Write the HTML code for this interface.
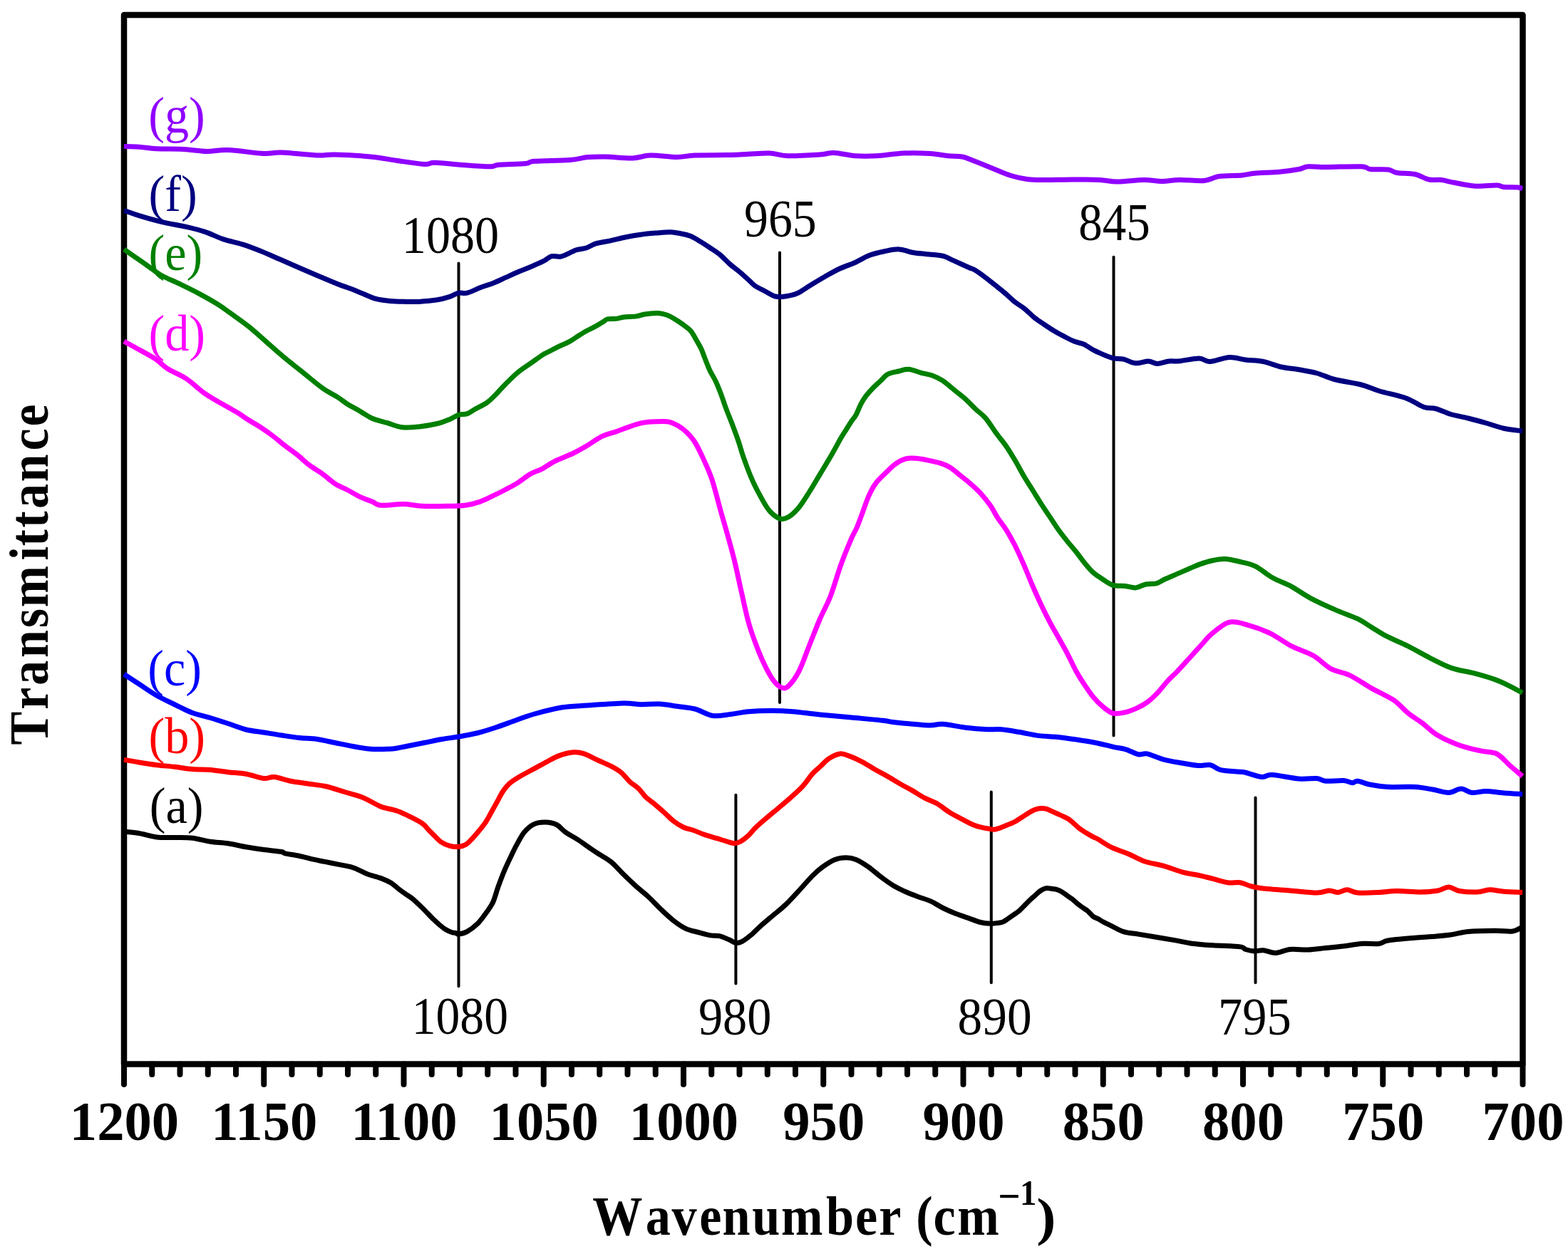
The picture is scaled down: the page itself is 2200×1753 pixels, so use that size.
<!DOCTYPE html>
<html><head><meta charset="utf-8"><title>FTIR Spectra</title>
<style>html,body{margin:0;padding:0;background:#fff;}svg{display:block;}</style>
</head><body>
<svg width="2200" height="1753" viewBox="0 0 2200 1753">
<rect x="0" y="0" width="2200" height="1753" fill="#fff"/>
<g font-family="'Liberation Serif', 'Times New Roman', serif">
<text transform="translate(563.86 354.78) scale(0.9273 1)" font-size="73.53" fill="#000">1080</text>
<text transform="translate(1043.97 331.53) scale(0.9225 1)" font-size="73.53" fill="#000">965</text>
<text transform="translate(1513.32 337.28) scale(0.9099 1)" font-size="73.53" fill="#000">845</text>
<text transform="translate(577.71 1451.13) scale(0.9182 1)" font-size="73.68" fill="#000">1080</text>
<text transform="translate(979.95 1452.43) scale(0.9273 1)" font-size="73.68" fill="#000">980</text>
<text transform="translate(1343.53 1451.51) scale(0.9340 1)" font-size="74.26" fill="#000">890</text>
<text transform="translate(1709.10 1452.27) scale(0.9309 1)" font-size="73.43" fill="#000">795</text>
<text transform="translate(208.27 185.64) scale(0.945 1)" font-size="72.2" fill="#8f00ff">(g)</text>
<text transform="translate(208.52 296.09) scale(0.945 1)" font-size="72.2" fill="#000080">(f)</text>
<text transform="translate(208.52 378.59) scale(0.945 1)" font-size="72.2" fill="#008000">(e)</text>
<text transform="translate(208.52 492.34) scale(0.945 1)" font-size="72.2" fill="#ff00ff">(d)</text>
<text transform="translate(207.27 962.34) scale(0.945 1)" font-size="72.2" fill="#0000ff">(c)</text>
<text transform="translate(208.52 1057.34) scale(0.945 1)" font-size="72.2" fill="#ff0000">(b)</text>
<text transform="translate(209.77 1154.84) scale(0.945 1)" font-size="72.2" fill="#000000">(a)</text>
<text transform="translate(174.50 1599.5) scale(0.983 1)" font-size="78.0" font-weight="bold" text-anchor="middle">1200</text>
<text transform="translate(370.75 1599.5) scale(0.983 1)" font-size="78.0" font-weight="bold" text-anchor="middle">1150</text>
<text transform="translate(567.00 1599.5) scale(0.983 1)" font-size="78.0" font-weight="bold" text-anchor="middle">1100</text>
<text transform="translate(763.25 1599.5) scale(0.983 1)" font-size="78.0" font-weight="bold" text-anchor="middle">1050</text>
<text transform="translate(959.50 1599.5) scale(0.983 1)" font-size="78.0" font-weight="bold" text-anchor="middle">1000</text>
<text transform="translate(1155.75 1599.5) scale(0.983 1)" font-size="78.0" font-weight="bold" text-anchor="middle">950</text>
<text transform="translate(1352.00 1599.5) scale(0.983 1)" font-size="78.0" font-weight="bold" text-anchor="middle">900</text>
<text transform="translate(1548.25 1599.5) scale(0.983 1)" font-size="78.0" font-weight="bold" text-anchor="middle">850</text>
<text transform="translate(1744.50 1599.5) scale(0.983 1)" font-size="78.0" font-weight="bold" text-anchor="middle">800</text>
<text transform="translate(1940.75 1599.5) scale(0.983 1)" font-size="78.0" font-weight="bold" text-anchor="middle">750</text>
<text transform="translate(2137.00 1599.5) scale(0.983 1)" font-size="78.0" font-weight="bold" text-anchor="middle">700</text>
<text transform="translate(66.9 1044) rotate(-90) scale(0.9 1)" x="-1.57 53.45 91.17 134.05 180.73 212.85 286.25 308.29 336.85 366.55 408.38 457.17 495.01" y="0" font-size="78.0" font-weight="bold">Transmittance</text>
<text transform="scale(0.9 1)" x="923.56 1006.44 1047.11 1090.39 1126.10 1172.38 1217.85 1287.83 1333.34 1370.23 1398.95 1428.18 1455.12 1492.57" y="1733.5" font-size="78.0" font-weight="bold">Wavenumber (cm</text>
<text transform="translate(1430.96 1690.80) scale(0.9130 1)" font-size="51.21" font-weight="bold">1</text>
<text transform="translate(1400.33 1698.80) scale(0.9220 1)" font-size="60.00" font-weight="bold">&#8722;</text>
<text transform="translate(1454.24 1733.05) scale(1.0923 1)" font-size="75.00" font-weight="bold">)</text>
</g>
<rect x="174" y="21" width="1962.5" height="1472.5" fill="none" stroke="#000" stroke-width="8.5" stroke-linejoin="round"/>
<path d="M174.00,1493.5V1522M213.25,1493.5V1508M252.50,1493.5V1508M291.75,1493.5V1508M331.00,1493.5V1508M370.25,1493.5V1522M409.50,1493.5V1508M448.75,1493.5V1508M488.00,1493.5V1508M527.25,1493.5V1508M566.50,1493.5V1522M605.75,1493.5V1508M645.00,1493.5V1508M684.25,1493.5V1508M723.50,1493.5V1508M762.75,1493.5V1522M802.00,1493.5V1508M841.25,1493.5V1508M880.50,1493.5V1508M919.75,1493.5V1508M959.00,1493.5V1522M998.25,1493.5V1508M1037.50,1493.5V1508M1076.75,1493.5V1508M1116.00,1493.5V1508M1155.25,1493.5V1522M1194.50,1493.5V1508M1233.75,1493.5V1508M1273.00,1493.5V1508M1312.25,1493.5V1508M1351.50,1493.5V1522M1390.75,1493.5V1508M1430.00,1493.5V1508M1469.25,1493.5V1508M1508.50,1493.5V1508M1547.75,1493.5V1522M1587.00,1493.5V1508M1626.25,1493.5V1508M1665.50,1493.5V1508M1704.75,1493.5V1508M1744.00,1493.5V1522M1783.25,1493.5V1508M1822.50,1493.5V1508M1861.75,1493.5V1508M1901.00,1493.5V1508M1940.25,1493.5V1522M1979.50,1493.5V1508M2018.75,1493.5V1508M2058.00,1493.5V1508M2097.25,1493.5V1508M2136.50,1493.5V1522" stroke="#000" stroke-width="8" stroke-linecap="round" fill="none"/>
<path d="M643.5,369.5V1384.25M1094,354.5V986M1562.5,360.75V1032.5M1032.4,1115.8V1380.5M1390.8,1111.5V1379.25M1761.5,1119.5V1379.25" stroke="#000" stroke-width="4" stroke-linecap="round" fill="none"/>
<path d="M174.00,205.50C177.50,205.62 187.33,205.71 195.00,206.25C202.67,206.79 209.58,208.21 220.00,208.75C230.42,209.29 245.83,208.88 257.50,209.50C269.17,210.12 279.58,212.33 290.00,212.50C300.42,212.67 306.67,210.00 320.00,210.50C333.33,211.00 357.50,214.92 370.00,215.50C382.50,216.08 382.50,213.58 395.00,214.00C407.50,214.42 432.50,217.50 445.00,218.00C457.50,218.50 457.50,216.67 470.00,217.00C482.50,217.33 505.42,218.58 520.00,220.00C534.58,221.42 545.00,223.75 557.50,225.50C570.00,227.25 586.25,230.04 595.00,230.50C603.75,230.96 601.67,228.12 610.00,228.25C618.33,228.38 635.00,230.46 645.00,231.25C655.00,232.04 662.50,232.58 670.00,233.00C677.50,233.42 685.00,234.04 690.00,233.75C695.00,233.46 692.08,231.96 700.00,231.25C707.92,230.54 729.17,230.33 737.50,229.50C745.83,228.67 739.58,227.08 750.00,226.25C760.42,225.42 787.50,225.46 800.00,224.50C812.50,223.54 816.67,221.25 825.00,220.50C833.33,219.75 839.58,219.75 850.00,220.00C860.42,220.25 877.08,222.33 887.50,222.00C897.92,221.67 902.08,218.25 912.50,218.00C922.92,217.75 939.58,220.50 950.00,220.50C960.42,220.50 962.50,218.50 975.00,218.00C987.50,217.50 1012.50,217.79 1025.00,217.50C1037.50,217.21 1040.83,216.67 1050.00,216.25C1059.17,215.83 1070.83,214.58 1080.00,215.00C1089.17,215.42 1093.33,218.42 1105.00,218.75C1116.67,219.08 1139.17,217.71 1150.00,217.00C1160.83,216.29 1161.67,214.21 1170.00,214.50C1178.33,214.79 1190.00,218.04 1200.00,218.75C1210.00,219.46 1218.75,219.38 1230.00,218.75C1241.25,218.12 1255.00,215.54 1267.50,215.00C1280.00,214.46 1294.58,214.88 1305.00,215.50C1315.42,216.12 1322.50,218.00 1330.00,218.75C1337.50,219.50 1343.75,218.75 1350.00,220.00C1356.25,221.25 1360.42,223.54 1367.50,226.25C1374.58,228.96 1384.17,232.92 1392.50,236.25C1400.83,239.58 1409.17,243.67 1417.50,246.25C1425.83,248.83 1434.17,250.71 1442.50,251.75C1450.83,252.79 1457.08,252.46 1467.50,252.50C1477.92,252.54 1492.50,252.00 1505.00,252.00C1517.50,252.00 1532.08,252.00 1542.50,252.50C1552.92,253.00 1557.08,255.00 1567.50,255.00C1577.92,255.00 1594.58,252.58 1605.00,252.50C1615.42,252.42 1621.67,254.50 1630.00,254.50C1638.33,254.50 1645.00,252.67 1655.00,252.50C1665.00,252.33 1680.83,254.33 1690.00,253.50C1699.17,252.67 1701.25,248.75 1710.00,247.50C1718.75,246.25 1734.17,246.71 1742.50,246.00C1750.83,245.29 1751.25,244.04 1760.00,243.25C1768.75,242.46 1784.58,242.21 1795.00,241.25C1805.42,240.29 1815.83,238.75 1822.50,237.50C1829.17,236.25 1828.75,234.25 1835.00,233.75C1841.25,233.25 1847.50,234.50 1860.00,234.50C1872.50,234.50 1899.58,233.25 1910.00,233.75C1920.42,234.25 1916.25,236.79 1922.50,237.50C1928.75,238.21 1941.25,237.17 1947.50,238.00C1953.75,238.83 1953.75,241.42 1960.00,242.50C1966.25,243.58 1977.50,242.92 1985.00,244.50C1992.50,246.08 1998.75,250.67 2005.00,252.00C2011.25,253.33 2016.67,251.79 2022.50,252.50C2028.33,253.21 2032.08,254.79 2040.00,256.25C2047.92,257.71 2060.00,260.62 2070.00,261.25C2080.00,261.88 2093.33,259.79 2100.00,260.00C2106.67,260.21 2105.00,262.00 2110.00,262.50C2115.00,263.00 2125.67,262.58 2130.00,263.00C2134.33,263.42 2135.00,264.67 2136.00,265.00" fill="none" stroke="#8f00ff" stroke-width="7" stroke-linejoin="round" stroke-linecap="butt"/>
<path d="M174.00,296.00C174.58,296.10 174.00,295.48 177.50,296.60C181.00,297.72 186.85,300.23 195.00,302.70C203.15,305.17 215.35,308.78 226.40,311.40C237.45,314.02 251.12,316.07 261.30,318.40C271.48,320.73 278.77,322.48 287.50,325.40C296.23,328.32 304.97,332.98 313.70,335.90C322.43,338.82 331.17,340.13 339.90,342.90C348.63,345.67 357.37,349.02 366.10,352.50C374.83,355.98 383.57,360.02 392.30,363.80C401.03,367.58 409.77,371.42 418.50,375.20C427.23,378.98 435.45,382.58 444.70,386.50C453.95,390.42 466.20,395.60 474.00,398.70C481.80,401.80 485.68,402.87 491.50,405.10C497.32,407.33 503.08,409.77 508.90,412.10C514.72,414.43 520.00,417.37 526.40,419.10C532.80,420.83 540.03,421.78 547.30,422.50C554.57,423.22 563.30,423.25 570.00,423.40C576.70,423.55 580.22,423.83 587.50,423.40C594.78,422.97 606.42,421.97 613.70,420.80C620.98,419.63 626.25,418.00 631.20,416.40C636.15,414.80 639.33,412.07 643.40,411.20C647.47,410.33 650.37,412.52 655.60,411.20C660.83,409.88 668.68,405.63 674.80,403.30C680.92,400.97 686.48,399.52 692.30,397.20C698.12,394.88 703.88,392.02 709.70,389.40C715.52,386.78 721.38,383.98 727.20,381.50C733.02,379.02 738.78,376.97 744.60,374.50C750.42,372.03 757.20,369.17 762.10,366.70C767.00,364.23 769.72,360.85 774.00,359.70C778.28,358.55 782.02,361.28 787.80,359.80C793.58,358.32 802.90,352.77 808.70,350.80C814.50,348.83 817.97,349.52 822.60,348.00C827.23,346.48 830.70,343.43 836.50,341.70C842.30,339.97 850.43,339.10 857.40,337.60C864.37,336.10 871.35,334.10 878.30,332.70C885.25,331.30 892.15,330.13 899.10,329.20C906.05,328.27 913.03,327.68 920.00,327.10C926.97,326.52 935.10,325.58 940.90,325.70C946.70,325.82 950.17,326.87 954.80,327.80C959.43,328.73 964.07,329.43 968.70,331.30C973.33,333.17 977.97,336.22 982.60,339.00C987.23,341.78 991.85,344.88 996.50,348.00C1001.15,351.12 1005.85,353.87 1010.50,357.70C1015.15,361.53 1019.77,366.93 1024.40,371.00C1029.03,375.07 1033.67,378.17 1038.30,382.10C1042.93,386.03 1048.58,391.35 1052.20,394.60C1055.82,397.85 1056.38,399.20 1060.00,401.60C1063.62,404.00 1069.27,406.60 1073.90,409.00C1078.53,411.40 1083.17,414.83 1087.80,416.00C1092.43,417.17 1096.60,416.70 1101.70,416.00C1106.80,415.30 1112.60,414.35 1118.40,411.80C1124.20,409.25 1130.00,404.63 1136.50,400.70C1143.00,396.77 1150.43,392.15 1157.40,388.20C1164.37,384.25 1171.35,380.25 1178.30,377.00C1185.25,373.75 1192.15,371.82 1199.10,368.70C1206.05,365.58 1213.03,360.97 1220.00,358.30C1226.97,355.63 1233.93,354.10 1240.90,352.70C1247.87,351.30 1254.85,349.55 1261.80,349.90C1268.75,350.25 1274.48,353.52 1282.60,354.80C1290.72,356.08 1303.53,356.78 1310.50,357.60C1317.47,358.42 1319.77,358.32 1324.40,359.70C1329.03,361.08 1332.37,363.23 1338.30,365.90C1344.23,368.57 1355.08,373.52 1360.00,375.70C1364.92,377.88 1364.18,376.83 1367.80,379.00C1371.42,381.17 1377.05,385.23 1381.70,388.70C1386.35,392.17 1391.05,396.08 1395.70,399.80C1400.35,403.52 1404.97,407.05 1409.60,411.00C1414.23,414.95 1418.87,419.80 1423.50,423.50C1428.13,427.20 1432.77,429.50 1437.40,433.20C1442.03,436.90 1446.67,441.98 1451.30,445.70C1455.93,449.42 1460.57,452.37 1465.20,455.50C1469.83,458.63 1474.45,461.72 1479.10,464.50C1483.75,467.28 1488.45,469.77 1493.10,472.20C1497.75,474.63 1502.37,477.25 1507.00,479.10C1511.63,480.95 1516.27,481.20 1520.90,483.30C1525.53,485.40 1530.17,489.27 1534.80,491.70C1539.43,494.13 1544.07,496.05 1548.70,497.90C1553.33,499.75 1557.97,501.75 1562.60,502.80C1567.23,503.85 1571.40,503.03 1576.50,504.20C1581.60,505.37 1587.40,509.33 1593.20,509.80C1599.00,510.27 1606.20,506.90 1611.30,507.00C1616.40,507.10 1619.02,510.40 1623.80,510.40C1628.58,510.40 1634.80,507.61 1640.00,507.00C1645.20,506.39 1647.92,507.42 1655.00,506.75C1662.08,506.08 1675.42,502.88 1682.50,503.00C1689.58,503.12 1690.42,507.75 1697.50,507.50C1704.58,507.25 1716.67,501.92 1725.00,501.50C1733.33,501.08 1739.58,504.00 1747.50,505.00C1755.42,506.00 1764.17,505.83 1772.50,507.50C1780.83,509.17 1789.17,513.12 1797.50,515.00C1805.83,516.88 1814.17,517.29 1822.50,518.75C1830.83,520.21 1839.17,521.46 1847.50,523.75C1855.83,526.04 1862.08,529.79 1872.50,532.50C1882.92,535.21 1899.58,537.29 1910.00,540.00C1920.42,542.71 1924.58,545.62 1935.00,548.75C1945.42,551.88 1962.08,555.00 1972.50,558.75C1982.92,562.50 1990.42,568.75 1997.50,571.25C2004.58,573.75 2008.75,572.08 2015.00,573.75C2021.25,575.42 2027.50,579.04 2035.00,581.25C2042.50,583.46 2051.67,584.92 2060.00,587.00C2068.33,589.08 2076.67,591.38 2085.00,593.75C2093.33,596.12 2101.50,599.38 2110.00,601.25C2118.50,603.12 2131.67,604.38 2136.00,605.00" fill="none" stroke="#000080" stroke-width="7" stroke-linejoin="round" stroke-linecap="butt"/>
<path d="M174.00,349.80C176.92,351.85 185.68,358.02 191.50,362.10C197.32,366.18 203.08,370.23 208.90,374.30C214.72,378.37 219.12,382.43 226.40,386.50C233.68,390.57 243.87,394.48 252.60,398.70C261.33,402.92 270.07,407.13 278.80,411.80C287.53,416.47 297.73,422.18 305.00,426.70C312.27,431.22 315.13,433.67 322.40,438.90C329.67,444.13 339.87,451.12 348.60,458.10C357.33,465.08 366.07,473.23 374.80,480.80C383.53,488.37 392.27,496.22 401.00,503.50C409.73,510.78 418.47,517.52 427.20,524.50C435.93,531.48 445.60,539.88 453.40,545.40C461.20,550.92 468.23,553.92 474.00,557.60C479.77,561.28 483.05,564.40 488.00,567.50C492.95,570.60 498.18,573.00 503.70,576.20C509.22,579.40 514.42,583.78 521.10,586.70C527.78,589.62 536.52,591.52 543.80,593.70C551.08,595.88 557.52,598.93 564.80,599.80C572.08,600.67 579.35,599.78 587.50,598.90C595.65,598.02 606.42,596.25 613.70,594.50C620.98,592.75 626.25,590.43 631.20,588.40C636.15,586.37 639.33,583.60 643.40,582.30C647.47,581.00 651.82,581.90 655.60,580.60C659.38,579.30 661.45,577.13 666.10,574.50C670.75,571.87 678.55,568.30 683.50,564.80C688.45,561.30 691.43,557.85 695.80,553.50C700.17,549.15 704.47,543.93 709.70,538.70C714.93,533.47 721.38,526.92 727.20,522.10C733.02,517.28 738.78,513.88 744.60,509.80C750.42,505.72 757.20,500.65 762.10,497.60C767.00,494.55 770.87,493.13 774.00,491.50C777.13,489.87 776.57,489.92 780.90,487.80C785.23,485.68 794.88,481.57 800.00,478.80C805.12,476.03 807.72,473.63 811.60,471.20C815.48,468.77 819.42,466.33 823.30,464.20C827.18,462.07 831.02,460.53 834.90,458.40C838.78,456.27 843.68,453.15 846.60,451.40C849.52,449.65 849.50,448.57 852.40,447.90C855.30,447.23 860.12,447.88 864.00,447.40C867.88,446.92 870.85,445.58 875.70,445.00C880.55,444.42 888.27,444.57 893.10,443.90C897.93,443.23 900.05,441.72 904.70,441.00C909.35,440.28 916.72,439.65 921.00,439.60C925.28,439.55 927.28,439.98 930.40,440.70C933.52,441.42 936.22,442.22 939.70,443.90C943.18,445.58 947.43,448.28 951.30,450.80C955.17,453.32 959.80,456.57 962.90,459.00C966.00,461.43 967.57,462.40 969.90,465.40C972.23,468.40 974.57,472.93 976.90,477.00C979.23,481.07 981.97,485.72 983.90,489.80C985.83,493.88 986.57,496.65 988.50,501.50C990.43,506.35 992.78,513.08 995.50,518.90C998.22,524.72 1002.08,530.58 1004.80,536.40C1007.52,542.22 1009.47,547.60 1011.80,553.80C1014.13,560.00 1016.27,566.80 1018.80,573.60C1021.33,580.40 1024.08,586.87 1027.00,594.60C1029.92,602.33 1033.65,612.25 1036.30,620.00C1038.95,627.75 1039.77,632.28 1042.90,641.10C1046.03,649.92 1051.02,663.52 1055.10,672.90C1059.18,682.28 1063.32,690.07 1067.40,697.40C1071.48,704.73 1075.12,711.82 1079.60,716.90C1084.08,721.98 1089.82,726.47 1094.30,727.90C1098.78,729.33 1102.03,728.15 1106.50,725.50C1110.97,722.85 1116.22,717.92 1121.10,712.00C1125.98,706.08 1130.90,697.73 1135.80,690.00C1140.70,682.27 1145.60,673.75 1150.50,665.60C1155.40,657.45 1160.28,649.60 1165.20,641.10C1170.12,632.60 1176.37,620.88 1180.00,614.60C1183.63,608.32 1184.67,607.13 1187.00,603.40C1189.33,599.67 1191.67,595.70 1194.00,592.20C1196.33,588.70 1198.68,586.58 1201.00,582.40C1203.32,578.22 1205.58,571.52 1207.90,567.10C1210.22,562.68 1212.10,559.63 1214.90,555.90C1217.70,552.17 1221.20,548.32 1224.70,544.70C1228.20,541.08 1232.40,537.47 1235.90,534.20C1239.40,530.93 1241.52,527.30 1245.70,525.10C1249.88,522.90 1256.12,522.15 1261.00,521.00C1265.88,519.85 1269.87,517.85 1275.00,518.20C1280.13,518.55 1286.22,521.60 1291.80,523.10C1297.38,524.60 1303.38,525.35 1308.50,527.20C1313.62,529.05 1317.13,530.58 1322.50,534.20C1327.87,537.82 1335.35,544.58 1340.70,548.90C1346.05,553.22 1349.95,555.92 1354.60,560.10C1359.25,564.28 1363.93,569.58 1368.60,574.00C1373.27,578.42 1377.95,581.23 1382.60,586.60C1387.25,591.97 1393.60,602.13 1396.50,606.20C1399.40,610.27 1397.38,607.55 1400.00,611.00C1402.62,614.45 1408.13,620.98 1412.20,626.90C1416.27,632.82 1420.32,639.57 1424.40,646.50C1428.48,653.43 1432.62,661.58 1436.70,668.50C1440.78,675.42 1444.83,681.48 1448.90,688.00C1452.97,694.52 1457.03,701.28 1461.10,707.60C1465.17,713.92 1469.22,719.78 1473.30,725.90C1477.38,732.02 1481.52,738.60 1485.60,744.30C1489.68,750.00 1493.73,755.02 1497.80,760.10C1501.87,765.18 1505.93,769.70 1510.00,774.80C1514.07,779.90 1518.12,785.80 1522.20,790.70C1526.28,795.60 1530.42,800.53 1534.50,804.20C1538.58,807.87 1542.22,809.85 1546.70,812.70C1551.18,815.55 1556.10,819.67 1561.40,821.30C1566.70,822.93 1573.20,821.90 1578.50,822.50C1583.80,823.10 1588.32,825.32 1593.20,824.90C1598.08,824.48 1602.92,821.02 1607.80,820.00C1612.68,818.98 1618.02,820.02 1622.50,818.80C1626.98,817.58 1629.82,814.93 1634.70,812.70C1639.58,810.47 1646.10,807.85 1651.80,805.40C1657.50,802.95 1663.60,800.25 1668.90,798.00C1674.20,795.75 1678.42,793.73 1683.60,791.90C1688.78,790.07 1694.20,788.23 1700.00,787.00C1705.80,785.77 1711.60,784.23 1718.40,784.50C1725.20,784.77 1733.67,786.90 1740.80,788.60C1747.93,790.30 1753.72,790.97 1761.20,794.70C1768.68,798.43 1777.20,806.23 1785.70,811.00C1794.20,815.77 1803.35,818.53 1812.20,823.30C1821.05,828.07 1828.58,834.17 1838.80,839.60C1849.02,845.03 1862.62,851.13 1873.50,855.90C1884.38,860.67 1895.60,864.12 1904.10,868.20C1912.60,872.28 1917.70,876.32 1924.50,880.40C1931.30,884.48 1936.40,888.28 1944.90,892.70C1953.40,897.12 1965.30,901.80 1975.50,906.90C1985.70,912.00 1995.90,918.18 2006.10,923.30C2016.30,928.42 2026.50,934.03 2036.70,937.60C2046.90,941.17 2057.08,941.98 2067.30,944.70C2077.52,947.42 2089.48,950.83 2098.00,953.90C2106.52,956.97 2112.07,960.00 2118.40,963.10C2124.73,966.20 2133.07,970.93 2136.00,972.50" fill="none" stroke="#008000" stroke-width="7" stroke-linejoin="round" stroke-linecap="butt"/>
<path d="M174.00,479.10C176.92,480.70 184.22,484.63 191.50,488.70C198.78,492.77 210.43,498.70 217.70,503.50C224.97,508.30 227.83,512.85 235.10,517.50C242.37,522.15 252.57,525.58 261.30,531.40C270.03,537.22 278.77,546.28 287.50,552.40C296.23,558.52 305.85,563.50 313.70,568.10C321.55,572.70 328.97,576.55 334.60,580.00C340.23,583.45 342.45,585.58 347.50,588.80C352.55,592.02 359.08,595.52 364.90,599.30C370.72,603.08 376.58,607.13 382.40,611.50C388.22,615.87 393.98,620.98 399.80,625.50C405.62,630.02 411.47,633.95 417.30,638.60C423.13,643.25 428.98,649.03 434.80,653.40C440.62,657.77 446.38,660.58 452.20,664.80C458.02,669.02 463.87,674.92 469.70,678.70C475.53,682.48 481.38,684.43 487.20,687.50C493.02,690.57 498.78,694.33 504.60,697.10C510.42,699.87 517.15,702.07 522.10,704.10C527.05,706.13 527.03,708.73 534.30,709.30C541.57,709.87 556.10,707.35 565.70,707.50C575.30,707.65 581.18,709.75 591.90,710.20C602.62,710.65 619.87,710.35 630.00,710.20C640.13,710.05 645.42,710.32 652.70,709.30C659.98,708.28 667.30,706.28 673.70,704.10C680.10,701.92 685.28,698.97 691.10,696.20C696.92,693.43 702.78,690.55 708.60,687.50C714.42,684.45 720.18,681.55 726.00,677.90C731.82,674.25 737.67,668.95 743.50,665.60C749.33,662.25 755.18,660.85 761.00,657.80C766.82,654.75 771.13,650.93 778.40,647.30C785.67,643.67 797.32,639.48 804.60,636.00C811.88,632.52 815.40,630.33 822.10,626.40C828.80,622.47 837.53,615.90 844.80,612.40C852.07,608.90 857.85,608.17 865.70,605.40C873.55,602.63 884.62,597.98 891.90,595.80C899.18,593.62 903.05,593.03 909.40,592.30C915.75,591.57 924.95,591.40 930.00,591.40C935.05,591.40 936.15,591.28 939.70,592.30C943.25,593.32 947.43,595.18 951.30,597.50C955.17,599.82 959.02,602.45 962.90,606.20C966.78,609.95 970.63,613.77 974.60,620.00C978.57,626.23 982.65,634.78 986.70,643.60C990.75,652.42 994.83,660.68 998.90,672.90C1002.97,685.12 1007.43,703.87 1011.10,716.90C1014.77,729.93 1017.63,739.28 1020.90,751.10C1024.17,762.92 1027.43,774.35 1030.70,787.80C1033.97,801.25 1037.25,817.53 1040.50,831.80C1043.75,846.07 1046.95,861.58 1050.20,873.40C1053.45,885.22 1056.33,892.92 1060.00,902.70C1063.67,912.48 1068.12,923.53 1072.20,932.10C1076.28,940.67 1080.42,948.60 1084.50,954.10C1088.58,959.60 1093.03,963.68 1096.70,965.10C1100.37,966.52 1102.43,966.47 1106.50,962.60C1110.57,958.73 1116.22,951.47 1121.10,941.90C1125.98,932.33 1130.90,917.43 1135.80,905.20C1140.70,892.97 1145.60,879.92 1150.50,868.50C1155.40,857.08 1160.32,849.33 1165.20,836.70C1170.08,824.07 1174.92,806.15 1179.80,792.70C1184.68,779.25 1190.73,764.78 1194.50,756.00C1198.27,747.22 1199.70,746.35 1202.40,740.00C1205.10,733.65 1207.92,725.30 1210.70,717.90C1213.48,710.50 1216.07,702.23 1219.10,695.60C1222.13,688.97 1224.93,683.45 1228.90,678.10C1232.87,672.75 1238.25,668.03 1242.90,663.50C1247.55,658.97 1252.15,654.17 1256.80,650.90C1261.45,647.63 1266.13,645.18 1270.80,643.90C1275.47,642.62 1280.15,642.97 1284.80,643.20C1289.45,643.43 1292.88,644.13 1298.70,645.30C1304.52,646.47 1313.87,648.33 1319.70,650.20C1325.53,652.07 1329.05,653.60 1333.70,656.50C1338.35,659.40 1342.95,663.88 1347.60,667.60C1352.25,671.32 1356.93,674.72 1361.60,678.80C1366.27,682.88 1370.93,686.97 1375.60,692.10C1380.27,697.23 1385.53,703.77 1389.60,709.60C1393.67,715.43 1396.23,721.32 1400.00,727.10C1403.77,732.88 1408.13,737.77 1412.20,744.30C1416.27,750.83 1420.32,758.15 1424.40,766.30C1428.48,774.45 1432.62,783.83 1436.70,793.20C1440.78,802.57 1444.83,813.13 1448.90,822.50C1452.97,831.87 1457.03,840.85 1461.10,849.40C1465.17,857.95 1469.22,866.07 1473.30,873.80C1477.38,881.53 1481.52,888.47 1485.60,895.80C1489.68,903.13 1493.73,910.05 1497.80,917.80C1501.87,925.55 1505.93,934.95 1510.00,942.30C1514.07,949.65 1518.12,955.78 1522.20,961.90C1526.28,968.02 1530.42,974.12 1534.50,979.00C1538.58,983.88 1542.22,987.53 1546.70,991.20C1551.18,994.87 1556.10,999.57 1561.40,1001.00C1566.70,1002.43 1572.80,1001.03 1578.50,999.80C1584.20,998.57 1590.30,996.05 1595.60,993.60C1600.90,991.15 1605.42,988.77 1610.30,985.10C1615.18,981.43 1620.42,976.28 1624.90,971.60C1629.38,966.92 1632.72,961.88 1637.20,957.00C1641.68,952.12 1647.32,946.98 1651.80,942.30C1656.28,937.62 1660.02,933.38 1664.10,928.90C1668.18,924.42 1672.23,919.88 1676.30,915.40C1680.37,910.92 1684.55,906.28 1688.50,902.00C1692.45,897.72 1694.00,894.48 1700.00,889.70C1706.00,884.92 1716.00,875.37 1724.50,873.30C1733.00,871.23 1741.48,874.75 1751.00,877.30C1760.52,879.85 1771.40,883.67 1781.60,888.60C1791.80,893.53 1801.98,901.63 1812.20,906.90C1822.42,912.17 1833.72,914.92 1842.90,920.20C1852.08,925.48 1858.80,934.00 1867.30,938.60C1875.80,943.20 1884.37,943.22 1893.90,947.80C1903.43,952.38 1914.30,960.33 1924.50,966.10C1934.70,971.87 1946.60,976.62 1955.10,982.40C1963.60,988.18 1968.70,995.35 1975.50,1000.80C1982.30,1006.25 1989.10,1010.00 1995.90,1015.10C2002.70,1020.20 2007.80,1026.30 2016.30,1031.40C2024.80,1036.50 2036.68,1041.95 2046.90,1045.70C2057.12,1049.45 2068.75,1051.85 2077.60,1053.90C2086.45,1055.95 2093.20,1054.60 2100.00,1058.00C2106.80,1061.40 2112.40,1069.05 2118.40,1074.30C2124.40,1079.55 2133.07,1086.97 2136.00,1089.50" fill="none" stroke="#ff00ff" stroke-width="7" stroke-linejoin="round" stroke-linecap="butt"/>
<path d="M174.00,946.25C177.50,948.54 187.33,955.00 195.00,960.00C202.67,965.00 211.67,971.46 220.00,976.25C228.33,981.04 236.67,984.71 245.00,988.75C253.33,992.79 261.67,997.38 270.00,1000.50C278.33,1003.62 286.67,1005.00 295.00,1007.50C303.33,1010.00 311.67,1012.75 320.00,1015.50C328.33,1018.25 336.67,1021.92 345.00,1024.00C353.33,1026.08 361.67,1026.67 370.00,1028.00C378.33,1029.33 386.67,1030.75 395.00,1032.00C403.33,1033.25 411.67,1034.58 420.00,1035.50C428.33,1036.42 436.67,1036.33 445.00,1037.50C453.33,1038.67 461.67,1040.83 470.00,1042.50C478.33,1044.17 486.67,1046.04 495.00,1047.50C503.33,1048.96 511.67,1050.62 520.00,1051.25C528.33,1051.88 538.75,1051.46 545.00,1051.25C551.25,1051.04 553.33,1050.62 557.50,1050.00C561.67,1049.38 563.75,1048.75 570.00,1047.50C576.25,1046.25 586.67,1044.17 595.00,1042.50C603.33,1040.83 611.67,1038.96 620.00,1037.50C628.33,1036.04 636.67,1035.21 645.00,1033.75C653.33,1032.29 661.67,1030.83 670.00,1028.75C678.33,1026.67 685.83,1024.29 695.00,1021.25C704.17,1018.21 715.83,1013.71 725.00,1010.50C734.17,1007.29 739.58,1004.92 750.00,1002.00C760.42,999.08 775.00,995.00 787.50,993.00C800.00,991.00 810.42,991.00 825.00,990.00C839.58,989.00 862.50,987.21 875.00,987.00C887.50,986.79 891.67,988.58 900.00,988.75C908.33,988.92 916.67,987.58 925.00,988.00C933.33,988.42 941.67,990.08 950.00,991.25C958.33,992.42 966.67,992.79 975.00,995.00C983.33,997.21 991.67,1003.25 1000.00,1004.50C1008.33,1005.75 1016.67,1003.46 1025.00,1002.50C1033.33,1001.54 1040.42,999.58 1050.00,998.75C1059.58,997.92 1072.08,997.50 1082.50,997.50C1092.92,997.50 1101.25,997.83 1112.50,998.75C1123.75,999.67 1135.42,1001.54 1150.00,1003.00C1164.58,1004.46 1185.17,1006.12 1200.00,1007.50C1214.83,1008.88 1229.83,1010.21 1239.00,1011.25C1248.17,1012.29 1244.42,1012.62 1255.00,1013.75C1265.58,1014.88 1291.25,1017.58 1302.50,1018.00C1313.75,1018.42 1313.75,1015.71 1322.50,1016.25C1331.25,1016.79 1344.58,1020.00 1355.00,1021.25C1365.42,1022.50 1376.67,1023.33 1385.00,1023.75C1393.33,1024.17 1397.50,1023.12 1405.00,1023.75C1412.50,1024.38 1421.25,1026.03 1430.00,1027.50C1438.75,1028.97 1448.55,1031.45 1457.50,1032.60C1466.45,1033.75 1474.98,1033.52 1483.70,1034.40C1492.42,1035.28 1501.08,1036.60 1509.80,1037.90C1518.52,1039.20 1527.27,1040.47 1536.00,1042.20C1544.73,1043.93 1554.92,1046.70 1562.20,1048.30C1569.48,1049.90 1573.87,1050.05 1579.70,1051.80C1585.53,1053.55 1592.25,1057.78 1597.20,1058.80C1602.15,1059.82 1603.58,1056.73 1609.40,1057.90C1615.22,1059.07 1623.95,1063.62 1632.10,1065.80C1640.25,1067.98 1650.15,1069.55 1658.30,1071.00C1666.45,1072.45 1674.32,1074.05 1681.00,1074.50C1687.68,1074.95 1693.17,1072.68 1698.40,1073.70C1703.63,1074.72 1705.47,1079.00 1712.40,1080.60C1719.33,1082.20 1734.15,1082.69 1740.00,1083.30C1745.85,1083.91 1742.50,1083.05 1747.50,1084.25C1752.50,1085.45 1763.75,1089.96 1770.00,1090.50C1776.25,1091.04 1776.25,1087.08 1785.00,1087.50C1793.75,1087.92 1812.08,1092.17 1822.50,1093.00C1832.92,1093.83 1841.25,1091.96 1847.50,1092.50C1853.75,1093.04 1853.75,1095.75 1860.00,1096.25C1866.25,1096.75 1878.75,1095.08 1885.00,1095.50C1891.25,1095.92 1894.17,1098.62 1897.50,1098.75C1900.83,1098.88 1900.83,1095.83 1905.00,1096.25C1909.17,1096.67 1915.42,1099.88 1922.50,1101.25C1929.58,1102.62 1937.08,1103.96 1947.50,1104.50C1957.92,1105.04 1974.58,1103.92 1985.00,1104.50C1995.42,1105.08 2002.08,1106.67 2010.00,1108.00C2017.92,1109.33 2025.83,1112.67 2032.50,1112.50C2039.17,1112.33 2044.58,1107.00 2050.00,1107.00C2055.42,1107.00 2059.17,1111.92 2065.00,1112.50C2070.83,1113.08 2077.50,1110.42 2085.00,1110.50C2092.50,1110.58 2101.50,1112.33 2110.00,1113.00C2118.50,1113.67 2131.67,1114.25 2136.00,1114.50" fill="none" stroke="#0000ff" stroke-width="7" stroke-linejoin="round" stroke-linecap="butt"/>
<path d="M174.00,1066.25C177.50,1066.88 187.33,1068.75 195.00,1070.00C202.67,1071.25 211.67,1072.71 220.00,1073.75C228.33,1074.79 236.67,1075.29 245.00,1076.25C253.33,1077.21 261.67,1078.79 270.00,1079.50C278.33,1080.21 286.67,1079.79 295.00,1080.50C303.33,1081.21 311.67,1082.79 320.00,1083.75C328.33,1084.71 336.67,1084.79 345.00,1086.25C353.33,1087.71 363.33,1091.79 370.00,1092.50C376.67,1093.21 378.75,1089.88 385.00,1090.50C391.25,1091.12 399.58,1094.67 407.50,1096.25C415.42,1097.83 424.17,1098.75 432.50,1100.00C440.83,1101.25 449.17,1101.88 457.50,1103.75C465.83,1105.62 474.17,1108.75 482.50,1111.25C490.83,1113.75 499.17,1115.42 507.50,1118.75C515.83,1122.08 527.08,1128.72 532.50,1131.25C537.92,1133.78 535.83,1132.73 540.00,1133.90C544.17,1135.08 551.68,1136.27 557.50,1138.30C563.32,1140.33 569.08,1143.20 574.90,1146.10C580.72,1149.00 588.03,1152.63 592.40,1155.70C596.77,1158.77 598.20,1161.58 601.10,1164.50C604.00,1167.42 606.88,1170.35 609.80,1173.20C612.72,1176.05 615.10,1179.27 618.60,1181.60C622.10,1183.93 626.73,1186.05 630.80,1187.20C634.87,1188.35 639.22,1188.80 643.00,1188.50C646.78,1188.20 650.30,1187.23 653.50,1185.40C656.70,1183.57 659.00,1180.85 662.20,1177.50C665.40,1174.15 669.50,1169.22 672.70,1165.30C675.90,1161.38 678.78,1157.92 681.40,1154.00C684.02,1150.08 685.78,1146.47 688.40,1141.80C691.02,1137.13 694.18,1131.25 697.10,1126.00C700.02,1120.75 702.98,1114.67 705.90,1110.30C708.82,1105.93 710.82,1103.15 714.60,1099.80C718.38,1096.45 722.78,1093.68 728.60,1090.20C734.42,1086.72 743.10,1082.38 749.50,1078.90C755.90,1075.42 761.17,1072.35 767.00,1069.30C772.83,1066.25 778.10,1062.85 784.50,1060.60C790.90,1058.35 799.58,1056.25 805.40,1055.80C811.22,1055.35 813.63,1055.95 819.40,1057.90C825.17,1059.85 833.65,1064.58 840.00,1067.50C846.35,1070.42 852.27,1072.63 857.50,1075.40C862.73,1078.17 867.03,1080.47 871.40,1084.10C875.77,1087.73 879.62,1093.42 883.70,1097.20C887.78,1100.98 892.12,1103.15 895.90,1106.80C899.68,1110.45 902.62,1115.45 906.40,1119.10C910.18,1122.75 914.25,1125.07 918.60,1128.70C922.95,1132.33 928.13,1136.98 932.50,1140.90C936.87,1144.82 940.43,1148.85 944.80,1152.20C949.17,1155.55 954.05,1158.82 958.70,1161.00C963.35,1163.18 967.75,1163.57 972.70,1165.30C977.65,1167.03 982.87,1169.50 988.40,1171.40C993.93,1173.30 1000.65,1175.10 1005.90,1176.70C1011.15,1178.30 1015.83,1179.83 1019.90,1181.00C1023.97,1182.17 1027.10,1183.70 1030.30,1183.70C1033.50,1183.70 1035.90,1182.75 1039.10,1181.00C1042.30,1179.25 1046.02,1176.40 1049.50,1173.20C1052.98,1170.00 1055.63,1166.02 1060.00,1161.80C1064.37,1157.58 1070.47,1152.40 1075.70,1147.90C1080.93,1143.40 1085.87,1139.47 1091.40,1134.80C1096.93,1130.13 1103.07,1125.15 1108.90,1119.90C1114.73,1114.65 1121.22,1108.97 1126.40,1103.30C1131.58,1097.63 1135.98,1090.40 1140.00,1085.90C1144.02,1081.40 1146.72,1079.80 1150.50,1076.30C1154.28,1072.80 1158.05,1067.97 1162.70,1064.90C1167.35,1061.83 1173.45,1058.48 1178.40,1057.90C1183.35,1057.32 1187.17,1059.50 1192.40,1061.40C1197.63,1063.30 1203.98,1066.23 1209.80,1069.30C1215.62,1072.37 1221.47,1076.45 1227.30,1079.80C1233.13,1083.15 1238.98,1086.07 1244.80,1089.40C1250.62,1092.73 1256.38,1096.47 1262.20,1099.80C1268.02,1103.13 1273.87,1106.05 1279.70,1109.40C1285.53,1112.75 1291.38,1116.83 1297.20,1119.90C1303.02,1122.97 1308.78,1124.45 1314.60,1127.80C1320.42,1131.15 1326.28,1136.37 1332.10,1140.00C1337.92,1143.63 1343.68,1146.55 1349.50,1149.60C1355.32,1152.65 1361.92,1156.25 1367.00,1158.30C1372.08,1160.35 1376.60,1161.10 1380.00,1161.90C1383.40,1162.70 1384.93,1162.72 1387.40,1163.10C1389.87,1163.48 1392.32,1164.33 1394.80,1164.20C1397.28,1164.07 1399.82,1163.10 1402.30,1162.30C1404.78,1161.50 1407.23,1160.38 1409.70,1159.40C1412.17,1158.42 1414.63,1157.47 1417.10,1156.40C1419.57,1155.33 1422.03,1154.37 1424.50,1153.00C1426.97,1151.63 1429.42,1149.80 1431.90,1148.20C1434.38,1146.60 1436.92,1144.95 1439.40,1143.40C1441.88,1141.85 1444.33,1140.20 1446.80,1138.90C1449.27,1137.60 1451.73,1136.33 1454.20,1135.60C1456.67,1134.87 1459.12,1134.50 1461.60,1134.50C1464.08,1134.50 1466.62,1134.87 1469.10,1135.60C1471.58,1136.33 1474.03,1137.78 1476.50,1138.90C1478.97,1140.02 1481.43,1141.18 1483.90,1142.30C1486.37,1143.42 1488.83,1144.43 1491.30,1145.60C1493.77,1146.77 1496.22,1147.68 1498.70,1149.30C1501.18,1150.92 1503.72,1153.20 1506.20,1155.30C1508.68,1157.40 1511.13,1159.93 1513.60,1161.90C1516.07,1163.87 1518.53,1165.48 1521.00,1167.10C1523.47,1168.72 1525.93,1170.17 1528.40,1171.60C1530.87,1173.03 1533.87,1174.72 1535.80,1175.70C1537.73,1176.68 1536.18,1175.30 1540.00,1177.50C1543.82,1179.70 1551.50,1185.40 1558.70,1188.90C1565.90,1192.40 1575.33,1195.15 1583.20,1198.50C1591.07,1201.85 1597.75,1206.23 1605.90,1209.00C1614.05,1211.77 1623.37,1212.63 1632.10,1215.10C1640.83,1217.57 1649.57,1221.47 1658.30,1223.80C1667.03,1226.13 1677.23,1227.50 1684.50,1229.10C1691.77,1230.70 1695.50,1231.80 1701.90,1233.40C1708.30,1235.00 1716.55,1237.82 1722.90,1238.70C1729.25,1239.58 1734.65,1237.86 1740.00,1238.70C1745.35,1239.54 1749.58,1242.37 1755.00,1243.75C1760.42,1245.13 1763.33,1245.96 1772.50,1247.00C1781.67,1248.04 1797.50,1249.00 1810.00,1250.00C1822.50,1251.00 1838.33,1253.00 1847.50,1253.00C1856.67,1253.00 1860.00,1250.08 1865.00,1250.00C1870.00,1249.92 1873.33,1252.71 1877.50,1252.50C1881.67,1252.29 1885.42,1248.67 1890.00,1248.75C1894.58,1248.83 1897.50,1252.38 1905.00,1253.00C1912.50,1253.62 1925.83,1252.92 1935.00,1252.50C1944.17,1252.08 1950.42,1250.58 1960.00,1250.50C1969.58,1250.42 1982.92,1252.08 1992.50,1252.00C2002.08,1251.92 2010.83,1251.17 2017.50,1250.00C2024.17,1248.83 2027.50,1244.92 2032.50,1245.00C2037.50,1245.08 2040.83,1249.33 2047.50,1250.50C2054.17,1251.67 2065.42,1252.29 2072.50,1252.00C2079.58,1251.71 2083.75,1248.88 2090.00,1248.75C2096.25,1248.62 2102.33,1250.62 2110.00,1251.25C2117.67,1251.88 2131.67,1252.29 2136.00,1252.50" fill="none" stroke="#ff0000" stroke-width="7" stroke-linejoin="round" stroke-linecap="butt"/>
<path d="M174.00,1167.00C177.50,1167.42 187.33,1168.17 195.00,1169.50C202.67,1170.83 211.67,1174.00 220.00,1175.00C228.33,1176.00 236.67,1175.29 245.00,1175.50C253.33,1175.71 261.67,1175.29 270.00,1176.25C278.33,1177.21 286.67,1180.00 295.00,1181.25C303.33,1182.50 311.67,1182.50 320.00,1183.75C328.33,1185.00 336.67,1187.29 345.00,1188.75C353.33,1190.21 361.67,1191.38 370.00,1192.50C378.33,1193.62 390.00,1194.62 395.00,1195.50C400.00,1196.38 396.07,1196.88 400.00,1197.80C403.93,1198.72 412.42,1199.68 418.60,1201.00C424.78,1202.32 430.92,1204.30 437.10,1205.70C443.28,1207.10 449.52,1208.17 455.70,1209.40C461.88,1210.63 468.02,1211.87 474.20,1213.10C480.38,1214.33 488.17,1215.57 492.80,1216.80C497.43,1218.03 498.13,1218.80 502.00,1220.50C505.87,1222.20 510.58,1224.98 516.00,1227.00C521.42,1229.02 529.10,1230.58 534.50,1232.60C539.90,1234.62 544.15,1236.50 548.40,1239.10C552.65,1241.70 556.52,1245.58 560.00,1248.20C563.48,1250.82 566.20,1252.62 569.30,1254.80C572.40,1256.98 575.50,1258.80 578.60,1261.30C581.70,1263.80 584.78,1266.83 587.90,1269.80C591.02,1272.77 594.18,1275.95 597.30,1279.10C600.42,1282.25 603.50,1285.67 606.60,1288.70C609.70,1291.73 612.80,1294.68 615.90,1297.30C619.00,1299.92 622.10,1302.50 625.20,1304.40C628.30,1306.30 632.03,1307.83 634.50,1308.70C636.97,1309.57 638.58,1309.20 640.00,1309.60C641.42,1310.00 640.47,1311.43 643.00,1311.10C645.53,1310.77 650.53,1310.22 655.20,1307.60C659.87,1304.98 666.33,1300.05 671.00,1295.40C675.67,1290.75 679.72,1284.65 683.20,1279.70C686.68,1274.75 689.28,1271.52 691.90,1265.70C694.52,1259.88 696.28,1252.07 698.90,1244.80C701.52,1237.53 704.68,1229.08 707.60,1222.10C710.52,1215.12 713.48,1209.02 716.40,1202.90C719.32,1196.78 721.90,1191.23 725.10,1185.40C728.30,1179.57 731.53,1172.70 735.60,1167.90C739.67,1163.10 744.55,1158.92 749.50,1156.60C754.45,1154.28 760.05,1153.85 765.30,1154.00C770.55,1154.15 776.35,1155.18 781.00,1157.50C785.65,1159.82 788.27,1164.42 793.20,1167.90C798.13,1171.38 804.78,1174.62 810.60,1178.40C816.42,1182.18 823.20,1187.25 828.10,1190.60C833.00,1193.95 835.10,1195.30 840.00,1198.50C844.90,1201.70 851.68,1205.00 857.50,1209.80C863.32,1214.60 869.08,1221.62 874.90,1227.30C880.72,1232.98 886.58,1238.67 892.40,1243.90C898.22,1249.13 903.98,1253.32 909.80,1258.70C915.62,1264.08 921.47,1270.67 927.30,1276.20C933.13,1281.73 938.98,1287.38 944.80,1291.90C950.62,1296.42 956.38,1300.53 962.20,1303.30C968.02,1306.07 973.87,1306.90 979.70,1308.50C985.53,1310.10 992.25,1312.03 997.20,1312.90C1002.15,1313.77 1005.05,1312.68 1009.40,1313.70C1013.75,1314.72 1019.52,1317.40 1023.30,1319.00C1027.08,1320.60 1029.18,1322.87 1032.10,1323.30C1035.02,1323.73 1037.32,1323.33 1040.80,1321.60C1044.28,1319.87 1048.63,1316.53 1053.00,1312.90C1057.37,1309.27 1061.75,1304.47 1067.00,1299.80C1072.25,1295.13 1078.68,1289.85 1084.50,1284.90C1090.32,1279.95 1096.08,1275.62 1101.90,1270.10C1107.72,1264.58 1113.05,1258.63 1119.40,1251.80C1125.75,1244.97 1134.23,1234.93 1140.00,1229.10C1145.77,1223.27 1148.77,1220.58 1154.00,1216.80C1159.23,1213.02 1165.88,1208.58 1171.40,1206.40C1176.92,1204.22 1182.15,1203.70 1187.10,1203.70C1192.05,1203.70 1195.85,1204.22 1201.10,1206.40C1206.35,1208.58 1212.78,1212.73 1218.60,1216.80C1224.42,1220.87 1230.18,1226.43 1236.00,1230.80C1241.82,1235.17 1247.67,1239.50 1253.50,1243.00C1259.33,1246.50 1265.18,1249.18 1271.00,1251.80C1276.82,1254.42 1282.58,1256.52 1288.40,1258.70C1294.22,1260.88 1300.08,1262.27 1305.90,1264.90C1311.72,1267.53 1317.48,1271.60 1323.30,1274.50C1329.12,1277.40 1334.97,1279.98 1340.80,1282.30C1346.63,1284.62 1352.48,1286.37 1358.30,1288.40C1364.12,1290.43 1370.47,1293.18 1375.70,1294.50C1380.93,1295.82 1385.65,1296.15 1389.70,1296.30C1393.75,1296.45 1397.05,1295.80 1400.00,1295.40C1402.95,1295.00 1404.93,1294.95 1407.40,1293.90C1409.87,1292.85 1412.32,1290.77 1414.80,1289.10C1417.28,1287.43 1419.82,1285.63 1422.30,1283.90C1424.78,1282.17 1427.23,1280.82 1429.70,1278.70C1432.17,1276.58 1434.63,1273.68 1437.10,1271.20C1439.57,1268.72 1442.03,1266.15 1444.50,1263.80C1446.97,1261.45 1449.42,1259.32 1451.90,1257.10C1454.38,1254.88 1456.92,1252.22 1459.40,1250.50C1461.88,1248.78 1464.33,1247.37 1466.80,1246.80C1469.27,1246.23 1471.73,1246.87 1474.20,1247.10C1476.67,1247.33 1479.12,1247.52 1481.60,1248.20C1484.08,1248.88 1486.62,1249.83 1489.10,1251.20C1491.58,1252.57 1494.03,1254.67 1496.50,1256.40C1498.97,1258.13 1501.43,1259.68 1503.90,1261.60C1506.37,1263.52 1508.83,1265.92 1511.30,1267.90C1513.77,1269.88 1516.22,1271.70 1518.70,1273.50C1521.18,1275.30 1523.72,1276.60 1526.20,1278.70C1528.68,1280.80 1531.13,1284.25 1533.60,1286.10C1536.07,1287.95 1538.53,1288.45 1541.00,1289.80C1543.47,1291.15 1545.23,1292.53 1548.40,1294.20C1551.57,1295.87 1555.37,1297.57 1560.00,1299.80C1564.63,1302.03 1570.00,1305.72 1576.20,1307.60C1582.40,1309.48 1589.35,1309.78 1597.20,1311.10C1605.05,1312.42 1614.58,1314.03 1623.30,1315.50C1632.02,1316.97 1641.35,1318.45 1649.50,1319.90C1657.65,1321.35 1663.47,1323.05 1672.20,1324.20C1680.93,1325.35 1690.60,1326.02 1701.90,1326.80C1713.20,1327.58 1732.40,1327.95 1740.00,1328.90C1747.60,1329.85 1744.17,1331.48 1747.50,1332.50C1750.83,1333.52 1755.83,1334.79 1760.00,1335.00C1764.17,1335.21 1767.50,1333.33 1772.50,1333.75C1777.50,1334.17 1783.75,1337.71 1790.00,1337.50C1796.25,1337.29 1802.50,1333.25 1810.00,1332.50C1817.50,1331.75 1826.67,1333.33 1835.00,1333.00C1843.33,1332.67 1851.67,1331.33 1860.00,1330.50C1868.33,1329.67 1876.67,1329.00 1885.00,1328.00C1893.33,1327.00 1901.67,1325.08 1910.00,1324.50C1918.33,1323.92 1928.75,1325.25 1935.00,1324.50C1941.25,1323.75 1939.17,1321.38 1947.50,1320.00C1955.83,1318.62 1974.58,1317.17 1985.00,1316.25C1995.42,1315.33 2001.67,1315.21 2010.00,1314.50C2018.33,1313.79 2026.67,1313.17 2035.00,1312.00C2043.33,1310.83 2049.58,1308.46 2060.00,1307.50C2070.42,1306.54 2087.08,1306.33 2097.50,1306.25C2107.92,1306.17 2116.08,1307.88 2122.50,1307.00C2128.92,1306.12 2133.75,1302.00 2136.00,1301.00" fill="none" stroke="#000000" stroke-width="7" stroke-linejoin="round" stroke-linecap="butt"/>
</svg>
</body></html>
